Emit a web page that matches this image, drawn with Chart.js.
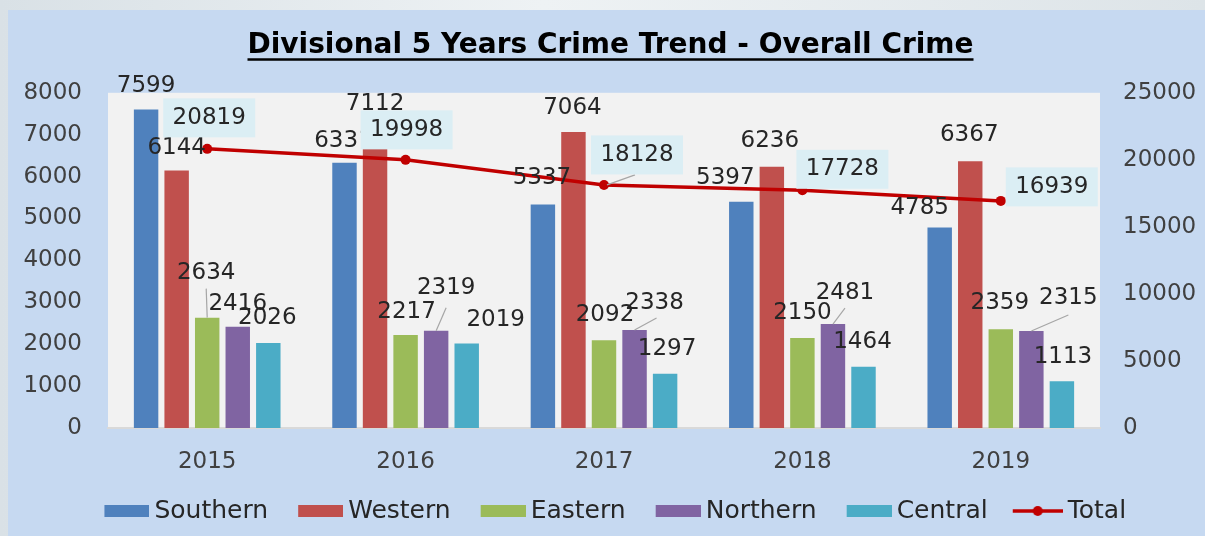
<!DOCTYPE html>
<html><head><meta charset="utf-8">
<script src="https://cdn.jsdelivr.net/npm/chart.js@4.4.0/dist/chart.umd.min.js"></script>
<style>
html,body{margin:0;padding:0;width:1205px;height:536px;overflow:hidden;}
body{background:linear-gradient(90deg,#d9e1e6,#eef2f4 45%,#dde4e8);position:relative;}
#panel{position:absolute;left:8px;top:10px;width:1197px;height:526px;background:#c6d9f1;}
canvas{position:absolute;left:0;top:0;}
</style></head><body>
<div id="panel"></div>
<canvas id="c" width="1205" height="536"></canvas>
<script>
// ---- data ----
const categories = ['2015', '2016', '2017', '2018', '2019'];
const southern = [7599, 6331, 5337, 5397, 4785];
const western  = [6144, 7112, 7064, 6236, 6367];
const eastern  = [2634, 2217, 2092, 2150, 2359];
const northern = [2416, 2319, 2338, 2481, 2315];
const central  = [2026, 2019, 1297, 1464, 1113];
const total    = [20819, 19998, 18128, 17728, 16939];
const leftTicks  = [0, 1000, 2000, 3000, 4000, 5000, 6000, 7000, 8000];
const rightTicks = [0, 5000, 10000, 15000, 20000, 25000];
const titleText = 'Divisional 5 Years Crime Trend - Overall Crime';

// ---- label layout (offsets of label centre from bar top / point) ----
const barLabelOffsets = [
  [[0,-24],[-1,-22],[-1,-26],[-16,-24],[-20,-19]],
  [[0,-23],[0,-26],[-1,-24],[-2,-26],[-1,-26]],
  [[-1,-45],[1,-23],[1,-25],[0,-25],[-1,-26]],
  [[0,-23],[10,-43],[20,-27],[12,-31],[37,-33]],
  [[-1,-25],[29,-23],[2,-25],[-1,-25],[1,-24]]
];
const leaderLines = [ // [dataset, index, endDx, endDy] relative to label centre
  [2,0,0,16],[3,1,0,20],[3,2,2,15],[3,3,0,15],[3,4,0,17]
];
const totalLabelOffsets = [[2,-31],[1,-30],[33,-30],[40,-21],[51,-14]];
const totalLeaders = [[2,-2,20]];

const FONT = 'DejaVu Sans';
const TXT = '#262626';
const LEG_BOX = 47;

function boxIcon(color){
  const c = document.createElement('canvas'); c.width = LEG_BOX + 15; c.height = 12;
  const g = c.getContext('2d'); g.fillStyle = color; g.fillRect(c.width-45,0,45,12); return c;
}
function lineIcon(color){
  const c = document.createElement('canvas'); c.width = LEG_BOX + 15; c.height = 12;
  const g = c.getContext('2d'); g.strokeStyle = color; g.lineWidth = 3.5;
  const x0 = c.width - 50;
  g.beginPath(); g.moveTo(x0,6); g.lineTo(c.width,6); g.stroke();
  g.fillStyle = color; g.beginPath(); g.arc(x0+25,6,5,0,Math.PI*2); g.fill(); return c;
}

const colors = ['#4f81bd','#c0504d','#9bbb59','#8064a2','#4bacc6'];
const names = ['Southern','Western','Eastern','Northern','Central'];
const series = [southern, western, eastern, northern, central];
const lineColor = '#c00000';

const datasets = series.map((d,i)=>({
  type:'bar', label:names[i], data:d, backgroundColor:colors[i],
  yAxisID:'y', order:1, categoryPercentage:0.77, barPercentage:0.8,
  icon: boxIcon(colors[i])
}));
datasets.push({
  type:'line', label:'Total', data: total, yAxisID:'y2', order:0,
  borderColor: lineColor, backgroundColor: lineColor, borderWidth:3.5,
  pointRadius:5, pointBackgroundColor: lineColor, pointBorderWidth:0, tension:0,
  icon: lineIcon(lineColor)
});

const plotBg = {
  id:'plotBg',
  beforeDraw(chart){
    const {ctx, chartArea:a} = chart;
    ctx.save(); ctx.fillStyle = '#f2f2f2';
    ctx.fillRect(a.left, a.top, a.right-a.left, a.bottom-a.top); ctx.restore();
  }
};

const labelsPlugin = {
  id:'labels',
  afterDatasetsDraw(chart){
    const ctx = chart.ctx;
    ctx.save();
    ctx.font = '23px "' + FONT + '"';
    ctx.textAlign = 'center'; ctx.textBaseline = 'middle';
    ctx.strokeStyle = '#a6a6a6'; ctx.lineWidth = 1.2;
    leaderLines.forEach(([ds,i,ex,ey])=>{
      const el = chart.getDatasetMeta(ds).data[i];
      const [dx,dy] = barLabelOffsets[ds][i];
      ctx.beginPath(); ctx.moveTo(el.x, el.y); ctx.lineTo(el.x+dx+ex, el.y+dy+ey); ctx.stroke();
    });
    const lm = chart.getDatasetMeta(5);
    totalLeaders.forEach(([i,ex,ey])=>{
      const el = lm.data[i]; const [dx,dy] = totalLabelOffsets[i];
      ctx.beginPath(); ctx.moveTo(el.x+3, el.y); ctx.lineTo(el.x+dx+ex, el.y+dy+ey); ctx.stroke();
    });
    ctx.fillStyle = TXT;
    series.forEach((d,ds)=>{
      chart.getDatasetMeta(ds).data.forEach((el,i)=>{
        const [dx,dy] = barLabelOffsets[ds][i];
        ctx.fillText(String(d[i]), el.x+dx, el.y+dy);
      });
    });
    lm.data.forEach((el,i)=>{
      const [dx,dy] = totalLabelOffsets[i];
      const cx = el.x+dx, cy = el.y+dy;
      ctx.fillStyle = '#dbeef4';
      ctx.fillRect(cx-46, cy-19.5, 92, 39);
      ctx.fillStyle = TXT;
      ctx.fillText(String(total[i]), cx, cy);
    });
    ctx.restore();
  }
};

const underline = {
  id:'underline',
  afterDraw(chart){
    const tb = chart.titleBlock; if(!tb) return;
    const ctx = chart.ctx; ctx.save();
    ctx.font = 'bold 28px "' + FONT + '"';
    const w = ctx.measureText(titleText).width;
    const cx = (tb.left + tb.right)/2;
    ctx.strokeStyle = '#000'; ctx.lineWidth = 2.5;
    const y = tb.top + tb.options.padding.top + 30.5;
    ctx.beginPath(); ctx.moveTo(cx-w/2, y); ctx.lineTo(cx+w/2, y); ctx.stroke();
    ctx.restore();
  }
};

new Chart(document.getElementById('c'), {
  data:{ labels: categories, datasets },
  options:{
    responsive:false, animation:false, devicePixelRatio:1,
    layout:{ padding:{ left:16, right:0, top:0, bottom:2.5 } },
    plugins:{
      title:{ display:true, text:titleText, color:'#000',
        font:{ family:FONT, size:28, weight:'bold' }, padding:{ top:29, bottom:30.2 } },
      legend:{ position:'bottom',
        labels:{ usePointStyle:true, pointStyleWidth:LEG_BOX, padding:20.5, color:TXT,
          font:{ family:FONT, size:25 },
          generateLabels(chart){
            return chart.data.datasets.map((d,i)=>({
              text:d.label, pointStyle:d.icon, fillStyle:'transparent', strokeStyle:'transparent',
              lineWidth:0, datasetIndex:i, hidden:false, fontColor:TXT
            }));
          }
        }
      },
      tooltip:{ enabled:false }
    },
    scales:{
      x:{ grid:{ display:false, drawTicks:false }, border:{ display:true, color:'#d9d9d9', width:2 },
        ticks:{ color:'#404040', font:{ family:FONT, size:23 }, padding:20 },
        afterFit(s){ s.height = 50; } },
      y:{ position:'left', min:0, max:8000,
        grid:{ display:false, drawTicks:false }, border:{ display:false },
        afterBuildTicks(s){ s.ticks = leftTicks.map(v=>({value:v})); },
        ticks:{ color:'#404040', font:{ family:FONT, size:23 }, padding:26, callback:v=>String(v) },
        afterFit(s){ s.width = 92; } },
      y2:{ position:'right', min:0, max:25000,
        grid:{ display:false, drawTicks:false }, border:{ display:false },
        afterBuildTicks(s){ s.ticks = rightTicks.map(v=>({value:v})); },
        ticks:{ color:'#404040', font:{ family:FONT, size:23 }, padding:23, callback:v=>String(v) },
        afterFit(s){ s.width = 105; } }
    }
  },
  plugins:[plotBg, labelsPlugin, underline]
});
</script>
</body></html>
